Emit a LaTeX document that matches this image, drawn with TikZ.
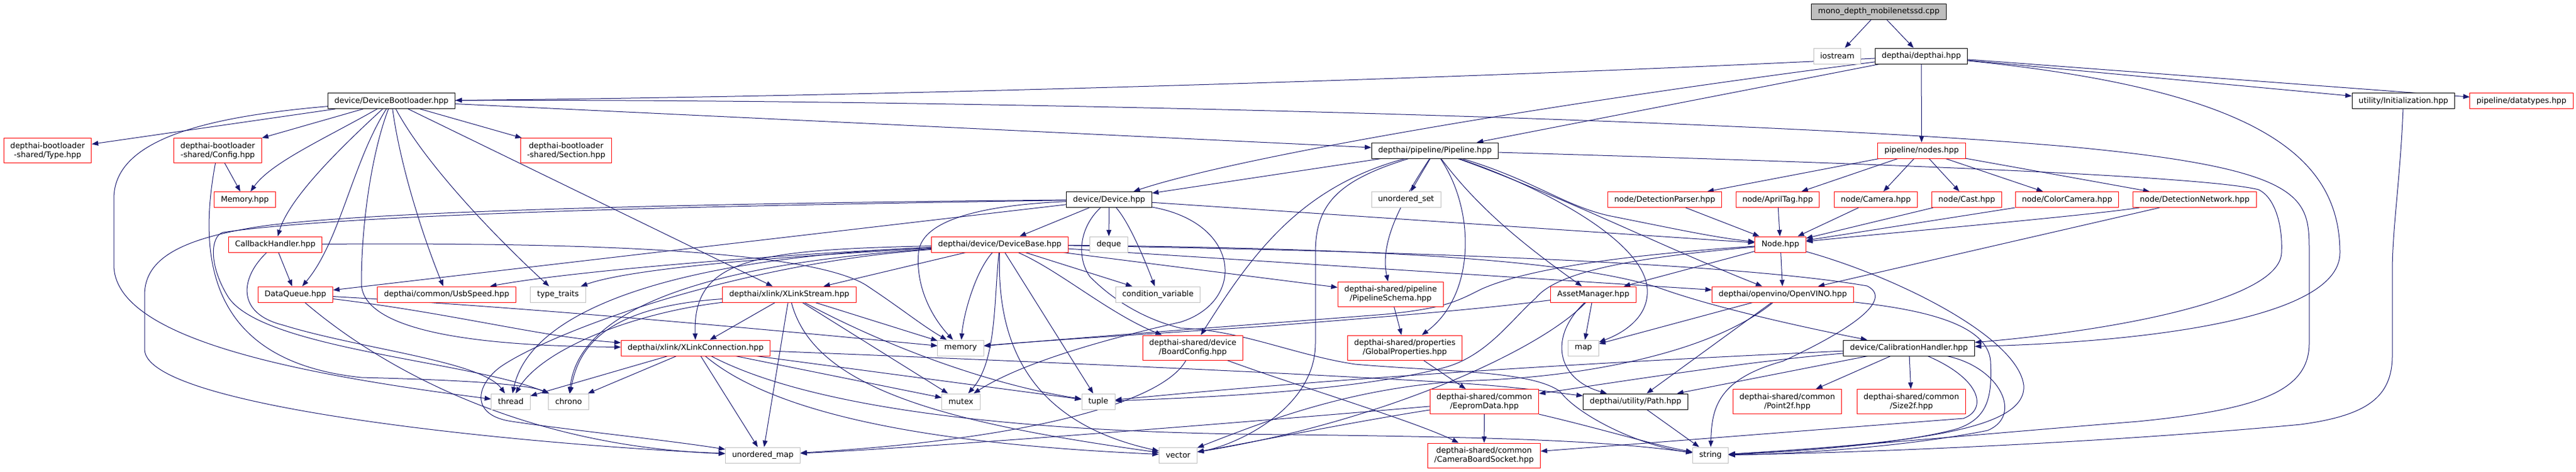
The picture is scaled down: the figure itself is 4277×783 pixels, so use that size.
\documentclass[tikz,border=0pt]{standalone}
\usepackage{fontspec}
\setmainfont{DejaVu Sans}
\usepackage{tikz}
\usetikzlibrary{arrows.meta}
\definecolor{dxblue}{RGB}{25,25,112}
\definecolor{dxred}{RGB}{255,0,0}
\definecolor{dxgrey}{RGB}{191,191,191}
\pgfdeclarelayer{edges}
\pgfsetlayers{edges,main}

\begin{document}
\begin{tikzpicture}[x=0.75pt,y=-0.75pt,
  file/.style={draw, fill=white, line width=0.75pt, inner xsep=8.25pt, inner ysep=0pt,
    minimum height=19.5pt, align=center, font=\fontsize{9.7pt}{11.25pt}\selectfont},
  known/.style={file, draw=black},
  cut/.style={file, draw=dxred},
  sys/.style={file, draw=dxgrey},
  tall/.style={minimum height=30.75pt},
  incl/.style={draw=dxblue, line width=0.75pt, -{Triangle[length=8pt,width=6pt]}}]
\useasboundingbox (0,0) rectangle (4277,783);

% Rank 0 and 1
\node[known, fill=dxgrey] (main) at (3119.5,19) {mono\_depth\_mobilenetssd.cpp};
\node[sys] (iostream) at (3050.5,93) {iostream};
\node[known] (depthai) at (3190,93) {depthai/depthai.hpp};

% Rank 2
\node[known] (bootloader) at (650,167.5) {device/DeviceBootloader.hpp};
\node[known] (init) at (3990.5,167.5) {utility/Initialization.hpp};
\node[cut] (datatypes) at (4186.5,167.5) {pipeline/datatypes.hpp};

% Rank 3
\node[cut, tall] (bltype) at (79,250) {depthai-bootloader\\-shared/Type.hpp};
\node[cut, tall] (blconfig) at (361.5,250) {depthai-bootloader\\-shared/Config.hpp};
\node[cut, tall] (blsection) at (940,250) {depthai-bootloader\\-shared/Section.hpp};
\node[known] (pipeline) at (2382.5,250) {depthai/pipeline/Pipeline.hpp};
\node[cut] (nodes) at (3190.5,250) {pipeline/nodes.hpp};

% Rank 4
\node[cut] (memhpp) at (406.5,331.5) {Memory.hpp};
\node[known] (device) at (1841.5,331.5) {device/Device.hpp};
\node[sys] (stduset) at (2334.5,331.5) {unordered\_set};
\node[cut] (detparser) at (2764,331.5) {node/DetectionParser.hpp};
\node[cut] (apriltag) at (2951.5,331.5) {node/AprilTag.hpp};
\node[cut] (camera) at (3114.5,331.5) {node/Camera.hpp};
\node[cut] (cast) at (3265.5,331.5) {node/Cast.hpp};
\node[cut] (colorcam) at (3432,331.5) {node/ColorCamera.hpp};
\node[cut] (detnet) at (3644,331.5) {node/DetectionNetwork.hpp};

% Rank 5
\node[cut] (callback) at (457,406) {CallbackHandler.hpp};
\node[cut] (devbase) at (1660,406) {depthai/device/DeviceBase.hpp};
\node[sys] (stddeque) at (1841,406) {deque};
\node[cut] (nodehpp) at (2956,406) {Node.hpp};

% Rank 6
\node[cut] (dataqueue) at (490.5,489) {DataQueue.hpp};
\node[cut] (usbspeed) at (741.5,489) {depthai/common/UsbSpeed.hpp};
\node[sys] (typetraits) at (926.5,489) {type\_traits};
\node[cut] (xlstream) at (1310.5,489) {depthai/xlink/XLinkStream.hpp};
\node[sys] (condvar) at (1922.5,489) {condition\_variable};
\node[cut, tall] (pschema) at (2309,488.5) {depthai-shared/pipeline\\/PipelineSchema.hpp};
\node[cut] (assets) at (2645.5,489) {AssetManager.hpp};
\node[cut] (openvino) at (2960,489) {depthai/openvino/OpenVINO.hpp};

% Rank 7
\node[cut] (xlconn) at (1155,578) {depthai/xlink/XLinkConnection.hpp};
\node[sys] (stdmemory) at (1595,578) {memory};
\node[cut, tall] (boardcfg) at (1980.5,577.5) {depthai-shared/device\\/BoardConfig.hpp};
\node[cut, tall] (globprops) at (2332.5,577.5) {depthai-shared/properties\\/GlobalProperties.hpp};
\node[sys] (stdmap) at (2629,578) {map};
\node[known] (calib) at (3169.5,578) {device/CalibrationHandler.hpp};

% Rank 8
\node[sys] (stdthread) at (848,667) {thread};
\node[sys] (stdchrono) at (944,667) {chrono};
\node[sys] (stdmutex) at (1595.5,667) {mutex};
\node[sys] (stdtuple) at (1823.5,667) {tuple};
\node[cut, tall] (eeprom) at (2464.5,667) {depthai-shared/common\\/EepromData.hpp};
\node[known] (pathhpp) at (2715.5,667) {depthai/utility/Path.hpp};
\node[cut, tall] (point2f) at (2967.5,667) {depthai-shared/common\\/Point2f.hpp};
\node[cut, tall] (size2f) at (3173.5,667) {depthai-shared/common\\/Size2f.hpp};

% Rank 9
\node[sys] (stdumap) at (1266.5,756) {unordered\_map};
\node[sys] (stdvector) at (1956,756) {vector};
\node[cut, tall] (socket) at (2464,756.5) {depthai-shared/common\\/CameraBoardSocket.hpp};
\node[sys] (stdstring) at (2840,756) {string};

\begin{pgfonlayer}{edges}
\fill[white] (0,0) rectangle (4277,783);

% main file
\draw[incl] (main) -- (iostream);
\draw[incl] (main) -- (depthai);

% depthai.hpp
\draw[incl] (depthai) .. controls (2500,128) and (1500,160) .. (bootloader);
\draw[incl] (depthai) .. controls (2550,175) and (2050,262) .. (device);
\draw[incl] (depthai) -- (pipeline);
\draw[incl] (depthai) -- (nodes);
\draw[incl] (depthai) .. controls (3750,150) and (3885,260) .. (3885,420) .. controls (3885,540) and (3500,570) .. (calib);
\draw[incl] (depthai) -- (init);
\draw[incl] (depthai) -- (datatypes);

% DeviceBootloader.hpp
\draw[incl] (bootloader) -- (bltype);
\draw[incl] (bootloader) -- (blconfig);
\draw[incl] (bootloader) .. controls (540,230) and (450,270) .. (memhpp);
\draw[incl] (bootloader) -- (blsection);
\draw[incl] (bootloader) .. controls (560,250) and (480,330) .. (callback);
\draw[incl] (bootloader) .. controls (585,270) and (565,400) .. (dataqueue);
\draw[incl] (bootloader) .. controls (615,260) and (600,380) .. (600,470) .. controls (600,570) and (900,575) .. (xlconn);
\draw[incl] (bootloader) .. controls (665,280) and (705,400) .. (usbspeed);
\draw[incl] (bootloader) .. controls (710,280) and (840,410) .. (typetraits);
\draw[incl] (bootloader) -- (xlstream);
\draw[incl] (bootloader) .. controls (330,195) and (189,235) .. (189,330) -- (189,440) .. controls (189,560) and (480,620) .. (stdthread);
\draw[incl] (bootloader) -- (pipeline);
\draw[incl] (bootloader) .. controls (1500,163) and (2900,195) .. (3450,245) .. controls (3834,282) and (3834,330) .. (3834,420) -- (3834,570) .. controls (3834,650) and (3750,680) .. (3550,700) .. controls (3300,720) and (3000,748) .. (stdstring);

% bootloader Config.hpp
\draw[incl] (blconfig) -- (memhpp);
\draw[incl] (blconfig) .. controls (330,420) and (340,600) .. (600,627) .. controls (800,632) and (880,640) .. (stdchrono);

% CallbackHandler.hpp
\draw[incl] (callback) -- (dataqueue);
\draw[incl] (callback) .. controls (900,403) and (1350,410) .. (1443,477) .. controls (1500,515) and (1530,540) .. (stdmemory);
\draw[incl] (callback) .. controls (400,460) and (390,520) .. (470,540) .. controls (600,580) and (800,600) .. (stdthread);

% DataQueue.hpp
\draw[incl] (dataqueue) .. controls (750,520) and (900,560) .. (xlconn);
\draw[incl] (dataqueue) .. controls (900,512) and (1300,550) .. (stdmemory);
\draw[incl] (dataqueue) .. controls (620,600) and (850,740) .. (stdumap);

% Device.hpp
\draw[incl] (device) -- (devbase);
\draw[incl] (device) -- (stddeque);
\draw[incl] (device) .. controls (1875,370) and (1900,430) .. (condvar);
\draw[incl] (device) .. controls (1650,340) and (1530,360) .. (1525,420) .. controls (1520,480) and (1550,530) .. (stdmemory);
\draw[incl] (device) .. controls (2060,370) and (2070,500) .. (1960,535) .. controls (1850,560) and (1700,600) .. (stdmutex);
\draw[incl] (device) -- (dataqueue);
\draw[incl] (device) .. controls (1300,336) and (600,348) .. (420,378) .. controls (300,398) and (240,430) .. (240,490) -- (240,580) .. controls (240,680) and (900,740) .. (stdumap);
\draw[incl] (device) .. controls (1300,340) and (600,352) .. (370,386) .. controls (350,392) and (345,440) .. (380,495) .. controls (440,580) and (780,600) .. (stdchrono);
\draw[incl] (device) -- (nodehpp);
\draw[incl] (device) .. controls (1790,380) and (1788,430) .. (1810,460) .. controls (1850,500) and (1900,530) .. (1960,545) .. controls (2060,548) and (2150,590) .. (2250,605) .. controls (2400,618) and (2540,615) .. (2590,650) .. controls (2620,690) and (2720,740) .. (stdstring);

% DeviceBase.hpp
\draw[incl] (devbase) -- (xlstream);
\draw[incl] (devbase) .. controls (1250,415) and (1150,430) .. (xlconn);
\draw[incl] (devbase) .. controls (1300,422) and (950,450) .. (usbspeed);
\draw[incl] (devbase) .. controls (1300,426) and (1050,445) .. (typetraits);
\draw[incl] (devbase) .. controls (1100,430) and (880,520) .. (stdthread);
\draw[incl] (devbase) .. controls (1150,440) and (960,520) .. (stdchrono);
\draw[incl] (devbase) .. controls (1620,450) and (1600,520) .. (stdmemory);
\draw[incl] (devbase) .. controls (1650,500) and (1655,600) .. (stdmutex);
\draw[incl] (devbase) -- (stdtuple);
\draw[incl] (devbase) .. controls (1655,560) and (1700,700) .. (stdvector);
\draw[incl] (devbase) .. controls (1200,440) and (900,560) .. (830,610) .. controls (790,640) and (780,690) .. (850,700) .. controls (950,715) and (1100,730) .. (stdumap);
\draw[incl] (devbase) -- (condvar);
\draw[incl] (devbase) .. controls (1760,450) and (1840,520) .. (boardcfg);
\draw[incl] (devbase) -- (pschema);
\draw[incl] (devbase) -- (openvino);
\draw[incl] (devbase) .. controls (2200,412) and (2600,425) .. (2760,480) .. controls (2850,512) and (3000,545) .. (calib);
\draw[incl] (devbase) .. controls (2400,418) and (2900,440) .. (3100,475) .. controls (3140,495) and (3090,540) .. (2960,600) .. controls (2850,630) and (2842,680) .. (stdstring);

% XLinkStream.hpp
\draw[incl] (xlstream) -- (xlconn);
\draw[incl] (xlstream) -- (stdumap);
\draw[incl] (xlstream) .. controls (1350,640) and (1550,700) .. (stdvector);
\draw[incl] (xlstream) -- (stdmutex);
\draw[incl] (xlstream) -- (stdmemory);
\draw[incl] (xlstream) .. controls (1480,580) and (1650,640) .. (stdtuple);
\draw[incl] (xlstream) .. controls (1050,520) and (900,580) .. (stdthread);
\draw[incl] (xlstream) .. controls (1000,510) and (960,580) .. (stdchrono);

% XLinkConnection.hpp
\draw[incl] (xlconn) -- (stdthread);
\draw[incl] (xlconn) -- (stdchrono);
\draw[incl] (xlconn) -- (stdmutex);
\draw[incl] (xlconn) -- (stdtuple);
\draw[incl] (xlconn) -- (stdumap);
\draw[incl] (xlconn) .. controls (1300,700) and (1600,740) .. (stdvector);
\draw[incl] (xlconn) .. controls (1350,680) and (1700,720) .. (2150,722) .. controls (2450,726) and (2650,730) .. (stdstring);
\draw[incl] (xlconn) .. controls (1700,600) and (2100,617) .. (2400,635) .. controls (2520,642) and (2580,652) .. (pathhpp);

% BoardConfig, PipelineSchema, GlobalProperties
\draw[incl] (boardcfg) .. controls (1930,670) and (1700,730) .. (stdumap);
\draw[incl] (boardcfg) .. controls (2150,640) and (2350,700) .. (socket);
\draw[incl] (pschema) -- (globprops);
\draw[incl] (globprops) -- (eeprom);

% Pipeline.hpp
\draw[incl] (pipeline) -- (device);
\draw[incl] (pipeline) .. controls (2160,310) and (2080,420) .. (boardcfg);
\draw[incl] (pipeline) .. controls (2220,300) and (2184,340) .. (2184,420) -- (2184,570) .. controls (2184,680) and (2050,740) .. (stdvector);
\draw[incl] (pipeline) .. controls (2330,330) and (2290,400) .. (pschema);
\draw[incl] (pipeline) -- (stduset);
\draw[incl] (pipeline) .. controls (2450,350) and (2450,490) .. (globprops);
\draw[incl] (pipeline) .. controls (2450,340) and (2520,400) .. (assets);
\draw[incl] (pipeline) .. controls (2560,310) and (2730,400) .. (2735,480) .. controls (2738,530) and (2690,555) .. (stdmap);
\draw[incl] (pipeline) .. controls (2580,320) and (2760,410) .. (openvino);
\draw[incl] (pipeline) .. controls (2550,300) and (2600,345) .. (2680,360) .. controls (2780,380) and (2850,395) .. (nodehpp);
\draw[incl] (pipeline) .. controls (3000,268) and (3650,290) .. (3750,315) .. controls (3780,330) and (3790,380) .. (3788,420) .. controls (3785,500) and (3500,550) .. (calib);

% pipeline/nodes.hpp
\draw[incl] (nodes) -- (detparser);
\draw[incl] (nodes) -- (apriltag);
\draw[incl] (nodes) -- (camera);
\draw[incl] (nodes) -- (cast);
\draw[incl] (nodes) -- (colorcam);
\draw[incl] (nodes) -- (detnet);

% node headers
\draw[incl] (detparser) -- (nodehpp);
\draw[incl] (apriltag) -- (nodehpp);
\draw[incl] (camera) -- (nodehpp);
\draw[incl] (cast) -- (nodehpp);
\draw[incl] (colorcam) -- (nodehpp);
\draw[incl] (detnet) .. controls (3450,360) and (3100,390) .. (nodehpp);
\draw[incl] (detnet) -- (openvino);

% Node.hpp
\draw[incl] (nodehpp) -- (openvino);
\draw[incl] (nodehpp) -- (assets);
\draw[incl] (nodehpp) .. controls (2750,420) and (2550,440) .. (2460,480) .. controls (2420,500) and (2400,512) .. (2300,522) .. controls (2200,530) and (1800,560) .. (stdmemory);
\draw[incl] (nodehpp) .. controls (2750,425) and (2590,445) .. (2550,495) .. controls (2510,530) and (2470,590) .. (2400,610) .. controls (2250,650) and (2000,660) .. (stdtuple);
\draw[incl] (nodehpp) .. controls (3150,460) and (3350,560) .. (3360,640) .. controls (3365,710) and (3200,735) .. (stdstring);

% OpenVINO.hpp
\draw[incl] (openvino) -- (stdmap);
\draw[incl] (openvino) -- (pathhpp);
\draw[incl] (openvino) .. controls (2850,580) and (2650,625) .. (2450,632) .. controls (2250,640) and (2100,700) .. (stdvector);
\draw[incl] (openvino) .. controls (3200,515) and (3300,540) .. (3305,600) .. controls (3308,660) and (3300,695) .. (3250,712) .. controls (3150,740) and (2950,752) .. (stdstring);

% CalibrationHandler.hpp
\draw[incl] (calib) .. controls (2900,600) and (2650,640) .. (eeprom);
\draw[incl] (calib) -- (pathhpp);
\draw[incl] (calib) -- (point2f);
\draw[incl] (calib) -- (size2f);
\draw[incl] (calib) .. controls (3290,630) and (3300,680) .. (3260,695) .. controls (3000,715) and (2750,735) .. (socket);
\draw[incl] (calib) .. controls (3320,610) and (3360,690) .. (3300,715) .. controls (3150,745) and (2950,755) .. (stdstring);
\draw[incl] (calib) .. controls (2800,595) and (2300,620) .. (stdtuple);

% Initialization.hpp
\draw[incl] (init) .. controls (3985,300) and (3972,380) .. (3972,450) -- (3972,590) .. controls (3972,660) and (3930,690) .. (3820,705) .. controls (3500,735) and (3100,752) .. (stdstring);

% AssetManager, Path, EepromData
\draw[incl] (assets) .. controls (2450,515) and (2250,530) .. (2100,542) .. controls (1900,555) and (1700,568) .. (stdmemory);
\draw[incl] (assets) -- (stdmap);
\draw[incl] (assets) .. controls (2570,560) and (2585,630) .. (pathhpp);
\draw[incl] (assets) .. controls (2560,580) and (2300,700) .. (stdvector);
\draw[incl] (pathhpp) -- (stdstring);
\draw[incl] (eeprom) -- (socket);
\draw[incl] (eeprom) .. controls (2650,710) and (2750,740) .. (stdstring);
\draw[incl] (eeprom) .. controls (2200,690) and (1600,740) .. (stdumap);
\draw[incl] (eeprom) .. controls (2250,700) and (2050,740) .. (stdvector);
\end{pgfonlayer}
\end{tikzpicture}
\end{document}
